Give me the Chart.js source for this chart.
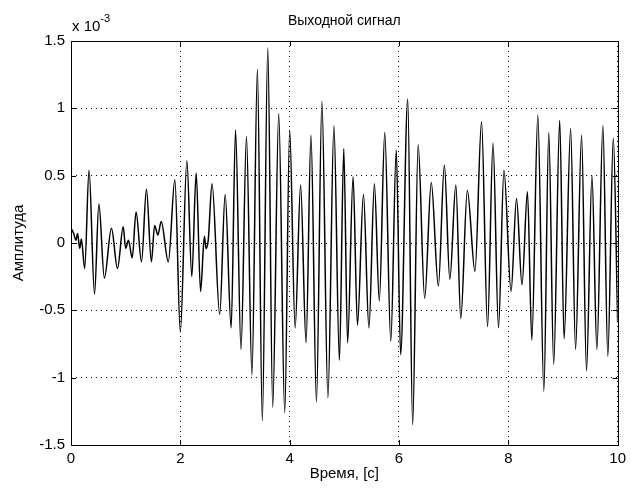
<!DOCTYPE html>
<html>
<head>
<meta charset="utf-8">
<script src="https://cdn.jsdelivr.net/npm/chart.js@4/dist/chart.umd.min.js"></script>
<style>
  html, body { margin: 0; padding: 0; background: #fff; }
  canvas { display: block; }
</style>
</head>
<body>
<canvas id="signal" width="631" height="494"></canvas>
<script>
// Output signal: time (s) and amplitude (x 10^-3), peak/trough samples
const timeSec = [
  0.00, 0.05, 0.09, 0.12, 0.16, 0.19, 0.25, 0.33, 0.43, 0.51,
  0.61, 0.74, 0.85, 0.955, 1.00, 1.05, 1.12, 1.19, 1.29, 1.38,
  1.47, 1.53, 1.59, 1.65, 1.78, 1.90, 2.00, 2.12, 2.21, 2.29,
  2.37, 2.44, 2.47, 2.51, 2.58, 2.72, 2.82, 2.93, 3.01, 3.11,
  3.21, 3.31, 3.41, 3.50, 3.60, 3.69, 3.80, 3.91, 4.00, 4.10,
  4.20, 4.30, 4.39, 4.49, 4.59, 4.70, 4.81, 4.91, 4.99, 5.06,
  5.16, 5.24, 5.35, 5.45, 5.55, 5.64, 5.74, 5.85, 5.95, 6.03,
  6.16, 6.25, 6.35, 6.47, 6.59, 6.72, 6.83, 6.93, 7.04, 7.13,
  7.25, 7.39, 7.51, 7.62, 7.72, 7.82, 7.92, 8.05, 8.15, 8.25,
  8.35, 8.43, 8.54, 8.65, 8.74, 8.83, 8.94, 9.02, 9.14, 9.23,
  9.34, 9.43, 9.53, 9.62, 9.73, 9.82, 9.92, 10.00
];
const amplitude = [
  0.11, 0.07, 0.02, 0.07, -0.04, 0.03, -0.19, 0.54, -0.38, 0.29,
  -0.26, 0.11, -0.19, 0.12, -0.04, 0.02, -0.11, 0.23, -0.14, 0.40,
  -0.14, 0.13, 0.06, 0.16, -0.14, 0.47, -0.66, 0.61, -0.25, 0.52,
  -0.36, 0.05, -0.04, 0.02, 0.44, -0.53, 0.36, -0.63, 0.84, -0.79,
  0.79, -0.98, 1.29, -1.32, 1.45, -1.22, 0.96, -1.26, 0.84, -0.63,
  0.43, -0.74, 0.80, -1.18, 1.05, -1.15, 0.87, -0.87, 0.70, -0.74,
  0.49, -0.61, 0.36, -0.63, 0.44, -0.43, 0.82, -0.73, 0.69, -0.83,
  1.07, -1.35, 0.73, -0.41, 0.45, -0.32, 0.58, -0.27, 0.43, -0.56,
  0.39, -0.21, 0.90, -0.62, 0.74, -0.63, 0.54, -0.36, 0.33, -0.31,
  0.38, -0.72, 0.95, -1.10, 0.82, -0.90, 0.91, -0.71, 0.85, -0.79,
  0.80, -0.95, 0.50, -0.79, 0.87, -0.84, 0.78, -0.59
];

const xTicks = [0, 2, 4, 6, 8, 10];
const xTickLabels = ['0', '2', '4', '6', '8', '10'];
const yTicks = [-1.5, -1, -0.5, 0, 0.5, 1, 1.5];
const yTickLabels = ['-1.5', '-1', '-0.5', '0', '0.5', '1', '1.5'];

const FONT = '"Liberation Sans", Arial, Helvetica, sans-serif';

// box, inward tick marks, title, axis labels and the exponent note
const matlabFrame = {
  id: 'matlabFrame',
  afterDraw(chart) {
    const { ctx, chartArea: a, scales: { x, y } } = chart;
    ctx.save();
    ctx.strokeStyle = '#000';
    ctx.lineWidth = 1;
    ctx.strokeRect(Math.round(a.left) + 0.5, Math.round(a.top) + 0.5,
      Math.round(a.right - a.left), Math.round(a.bottom - a.top));
    const tl = 5;
    ctx.beginPath();
    xTicks.forEach(v => {
      const px = Math.round(x.getPixelForValue(v)) + 0.5;
      ctx.moveTo(px, a.bottom); ctx.lineTo(px, a.bottom - tl);
      ctx.moveTo(px, a.top); ctx.lineTo(px, a.top + tl);
    });
    yTicks.forEach(v => {
      const py = Math.round(y.getPixelForValue(v)) + 0.5;
      ctx.moveTo(a.left, py); ctx.lineTo(a.left + tl, py);
      ctx.moveTo(a.right, py); ctx.lineTo(a.right - tl, py);
    });
    ctx.stroke();

    ctx.fillStyle = '#000';
    ctx.textAlign = 'center';
    ctx.textBaseline = 'alphabetic';
    ctx.font = '14px ' + FONT;
    ctx.fillText('Выходной сигнал', (a.left + a.right) / 2, 25);
    ctx.font = '15px ' + FONT;
    ctx.fillText('Время, [с]', (a.left + a.right) / 2, 478);

    ctx.save();
    ctx.translate(23, (a.top + a.bottom) / 2);
    ctx.rotate(-Math.PI / 2);
    ctx.fillText('Амплитуда', 0, 0);
    ctx.restore();

    ctx.textAlign = 'left';
    ctx.font = '15px ' + FONT;
    ctx.fillText('x 10', a.left + 1, 31);
    const w = ctx.measureText('x 10').width;
    ctx.font = '11px ' + FONT;
    ctx.fillText('-3', a.left + 1 + w, 22);
    ctx.restore();
  }
};

new Chart(document.getElementById('signal'), {
  type: 'line',
  data: {
    datasets: [{
      data: timeSec.map((t, i) => ({ x: t, y: amplitude[i] })),
      borderColor: '#000',
      borderWidth: 1.5,
      pointRadius: 0,
      fill: false,
      cubicInterpolationMode: 'monotone'
    }]
  },
  options: {
    responsive: false,
    animation: false,
    layout: { padding: { left: 0, right: 12, top: 41, bottom: 0 } },
    plugins: { legend: { display: false }, tooltip: { enabled: false } },
    scales: {
      x: {
        type: 'linear', min: 0, max: 10,
        afterFit: s => { s.height = 49; },
        afterBuildTicks: s => { s.ticks = xTicks.map(v => ({ value: v })); },
        ticks: {
          callback: v => xTickLabels[xTicks.indexOf(v)],
          color: '#000', font: { size: 15, family: FONT }, padding: 5, maxRotation: 0
        },
        grid: { color: '#000', lineWidth: 1, drawTicks: false },
        border: { display: false, dash: [1, 4] }
      },
      y: {
        type: 'linear', min: -1.5, max: 1.5,
        afterFit: s => { s.width = 71; },
        afterBuildTicks: s => { s.ticks = yTicks.map(v => ({ value: v })); },
        ticks: {
          callback: v => yTickLabels[yTicks.indexOf(v)],
          color: '#000', font: { size: 15, family: FONT }, padding: 6
        },
        grid: { color: '#000', lineWidth: 1, drawTicks: false },
        border: { display: false, dash: [1, 4] }
      }
    }
  },
  plugins: [matlabFrame]
});
</script>
</body>
</html>
